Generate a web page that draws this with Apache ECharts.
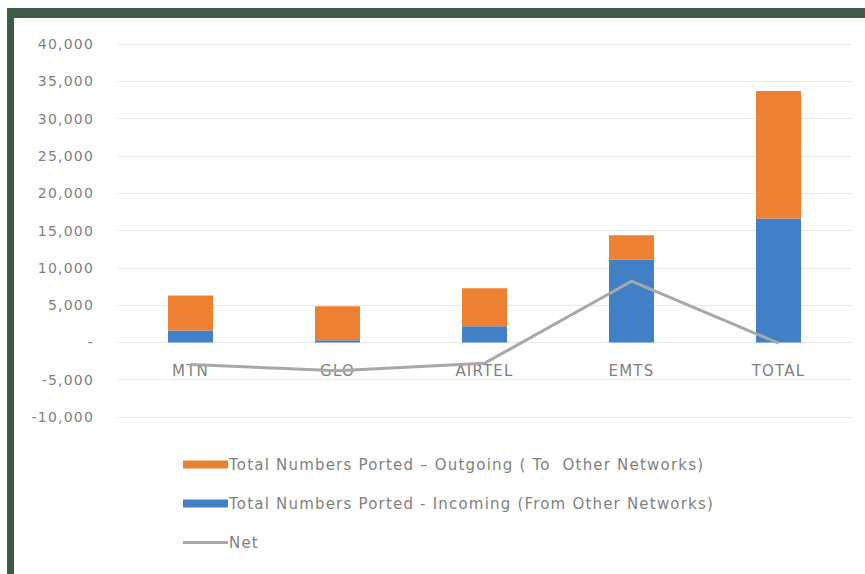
<!DOCTYPE html>
<html>
<head>
<meta charset="utf-8">
<script src="https://cdn.jsdelivr.net/npm/echarts@6/dist/echarts.min.js"></script>
<style>
html,body{margin:0;padding:0;background:#fff;}
#chart{width:865px;height:574px;letter-spacing:1.2px;}
</style>
</head>
<body>
<div id="chart"></div>
<script>
const categories = ['MTN', 'GLO', 'AIRTEL', 'EMTS', 'TOTAL'];
const incoming = [1600, 300, 2150, 11100, 16600];
const outgoing = [4700, 4550, 5100, 3250, 17100];
const net = [-2950, -3800, -2800, 8200, -100];
const seriesNames = [
  'Total Numbers Ported – Outgoing ( To  Other Networks)',
  'Total Numbers Ported - Incoming (From Other Networks)',
  'Net'
];
const yMin = -10000, yMax = 40000, yStep = 5000;

const font = 'DejaVu Sans';
const textColor = '#7f7f7f';

const chart = echarts.init(document.getElementById('chart'), null, {renderer: 'svg'});
chart.setOption({
  animation: false,
  backgroundColor: '#ffffff',
  graphic: [
    {type: 'rect', shape: {x: 7, y: 8, width: 870, height: 10}, style: {fill: '#3d5b46'}, z: 100},
    {type: 'rect', shape: {x: 7, y: 8, width: 7, height: 580}, style: {fill: '#3d5b46'}, z: 100}
  ],
  grid: {left: 117, right: 13, top: 44, bottom: 157, containLabel: false},
  legend: {
    orient: 'vertical',
    left: 178,
    top: 452,
    itemWidth: 45,
    itemHeight: 8,
    itemGap: 24,
    data: [
      {name: seriesNames[0], icon: 'rect'},
      {name: seriesNames[1], icon: 'rect'},
      {name: seriesNames[2], icon: 'path://M0,0H45V3H0Z', itemStyle: {color: '#a8a8a8'}}
    ],
    textStyle: {fontFamily: font, fontSize: 15, color: textColor, padding: [0, 0, 0, -4]}
  },
  xAxis: {
    type: 'category',
    data: categories,
    offset: -75,
    axisLine: {show: false},
    axisTick: {show: false},
    axisLabel: {margin: 21, fontFamily: font, fontSize: 15, color: textColor}
  },
  yAxis: {
    type: 'value',
    min: yMin, max: yMax, interval: yStep,
    axisLine: {show: false},
    axisTick: {show: false},
    splitLine: {lineStyle: {color: '#e8e8e8', width: 1}},
    axisLabel: {
      margin: 23, fontFamily: font, fontSize: 14, color: textColor,
      formatter: v => v === 0 ? '-' : (v < 0 ? '-' : '') + Math.abs(v).toLocaleString('en-US')
    }
  },
  series: [
    {
      name: seriesNames[1], type: 'bar', stack: 'ported', data: incoming,
      barWidth: 45, itemStyle: {color: '#4180c6'}
    },
    {
      name: seriesNames[0], type: 'bar', stack: 'ported', data: outgoing,
      barWidth: 45, itemStyle: {color: '#ee8032'}
    },
    {
      name: seriesNames[2], type: 'line', data: net,
      showSymbol: false, symbol: 'none',
      lineStyle: {color: '#a8a8a8', width: 3},
      itemStyle: {color: '#a8a8a8'}, z: 5
    }
  ]
});
</script>
</body>
</html>
